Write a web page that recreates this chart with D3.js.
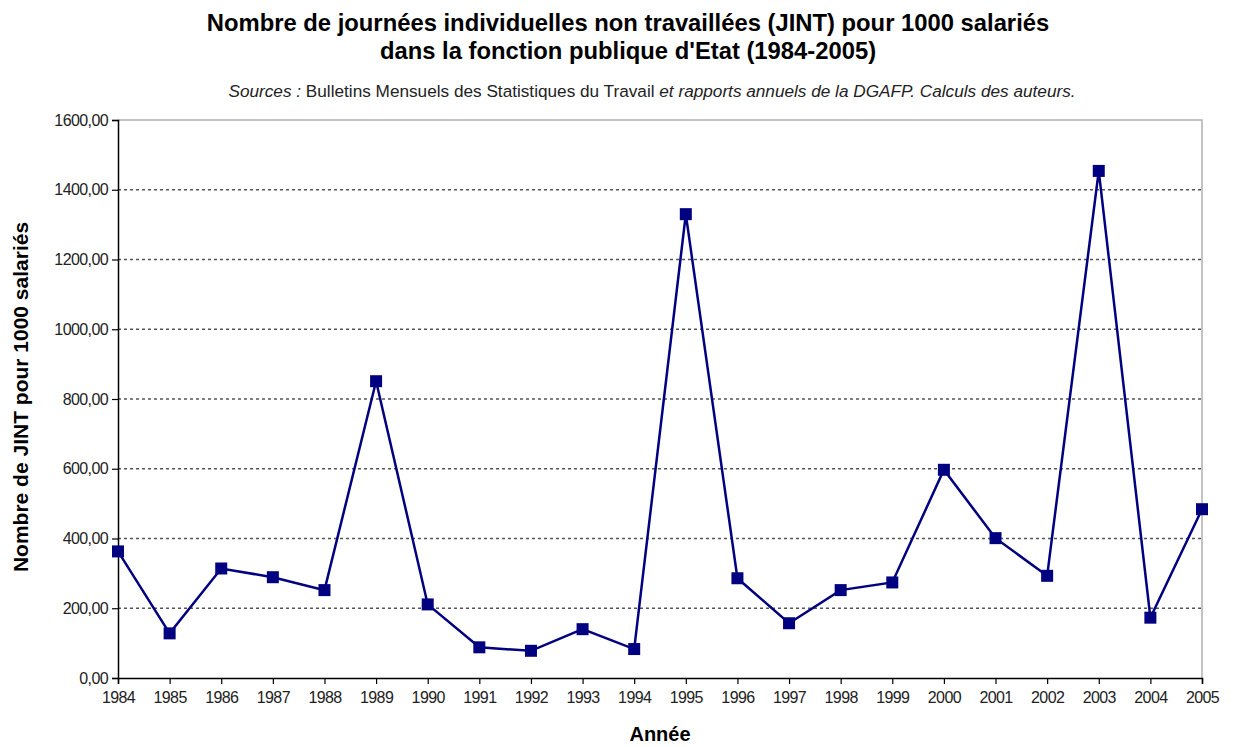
<!DOCTYPE html>
<html>
<head>
<meta charset="utf-8">
<script src="https://cdn.jsdelivr.net/npm/d3@7"></script>
<style>
	body { margin: 0; background: #fff; }
	svg { font-family: "Liberation Sans", Arial, sans-serif; }
</style>
</head>
<body>
<svg id="chart" width="1236" height="747"></svg>
<script>
const years  = [1984, 1985, 1986, 1987, 1988, 1989, 1990, 1991, 1992, 1993, 1994,
                1995, 1996, 1997, 1998, 1999, 2000, 2001, 2002, 2003, 2004, 2005]
const jint   = [363, 128, 314, 289, 252, 851, 211, 88, 78, 140, 83,
                1330, 286, 157, 252, 274, 597, 401, 293, 1454, 173, 484]
const yTicks = [0, 200, 400, 600, 800, 1000, 1200, 1400, 1600]

const svg = d3.select('#chart')
const m = {left: 118, top: 120, right: 1202, bottom: 678}

const x = d3.scaleLinear()
	.domain([years[0], years[years.length - 1]])
	.range([m.left, m.right])

const y = d3.scaleLinear()
	.domain([0, 1600])
	.range([m.bottom, m.top])

const fmt = d => d3.format('.2f')(d).replace('.', ',')

// Titles
for (const [t, yy] of [
	['Nombre de journées individuelles non travaillées (JINT) pour 1000 salariés', 31],
	["dans la fonction publique d'Etat (1984-2005)", 59]
]) {
	svg.append('text')
		.attr('x', 628).attr('y', yy)
		.attr('text-anchor', 'middle')
		.attr('font-size', 23.8).attr('font-weight', 'bold')
		.text(t)
}

const src = svg.append('text')
	.attr('x', 652).attr('y', 97)
	.attr('text-anchor', 'middle')
	.attr('font-size', 17.2).attr('fill', '#222')
src.append('tspan').attr('font-style', 'italic').text('Sources : ')
src.append('tspan').text(' Bulletins Mensuels des Statistiques du Travail ')
src.append('tspan').attr('font-style', 'italic').text('et rapports annuels de la DGAFP. Calculs des auteurs.')

// Plot frame (top / right)
svg.append('path')
	.attr('d', `M${m.left},${m.top}H${m.right}V${m.bottom}`)
	.attr('fill', 'none')
	.attr('stroke', '#b0b0b0')
	.attr('stroke-width', 1.5)

// Grid
svg.append('g')
	.selectAll('line')
	.data(yTicks.filter(d => d > 0 && d < 1600))
	.enter()
	.append('line')
	.attr('x1', m.left).attr('x2', m.right)
	.attr('y1', d => y(d)).attr('y2', d => y(d))
	.attr('stroke', '#555')
	.attr('stroke-width', 1.5)
	.attr('stroke-dasharray', '3,3')

// Axes
const yAxis = svg.append('g')
	.attr('transform', `translate(${m.left},0)`)
	.call(d3.axisLeft(y).tickValues(yTicks).tickFormat(fmt).tickSize(6).tickPadding(4))
const xAxis = svg.append('g')
	.attr('transform', `translate(0,${m.bottom})`)
	.call(d3.axisBottom(x).tickValues(years).tickFormat(d3.format('d')).tickSize(6).tickPadding(8))

for (const a of [yAxis, xAxis]) {
	a.attr('font-size', 16).attr('font-family', '"Liberation Sans", Arial, sans-serif')
	a.select('.domain').attr('stroke', '#000').attr('stroke-width', 1.5)
	a.selectAll('.tick line').attr('stroke', '#000').attr('stroke-width', 1.2)
	a.selectAll('.tick text')
		.attr('fill', '#222')
		.attr('letter-spacing', '-0.6')
}

// Axis titles
svg.append('text')
	.attr('transform', 'translate(28,397) rotate(-90)')
	.attr('text-anchor', 'middle')
	.attr('font-size', 21).attr('font-weight', 'bold')
	.text('Nombre de JINT pour 1000 salariés')
svg.append('text')
	.attr('x', 660).attr('y', 741)
	.attr('text-anchor', 'middle')
	.attr('font-size', 20).attr('font-weight', 'bold')
	.text('Année')

// Series
const pts = years.map((yr, i) => ({yr, v: jint[i]}))

svg.append('path')
	.datum(pts)
	.attr('fill', 'none')
	.attr('stroke', '#000080')
	.attr('stroke-width', 2.5)
	.attr('d', d3.line().x(d => x(d.yr)).y(d => y(d.v)))

const s = 12
svg.append('g')
	.selectAll('rect')
	.data(pts)
	.enter()
	.append('rect')
	.attr('x', d => x(d.yr) - s / 2)
	.attr('y', d => y(d.v) - s / 2)
	.attr('width', s).attr('height', s)
	.attr('fill', '#000080')
</script>
</body>
</html>
